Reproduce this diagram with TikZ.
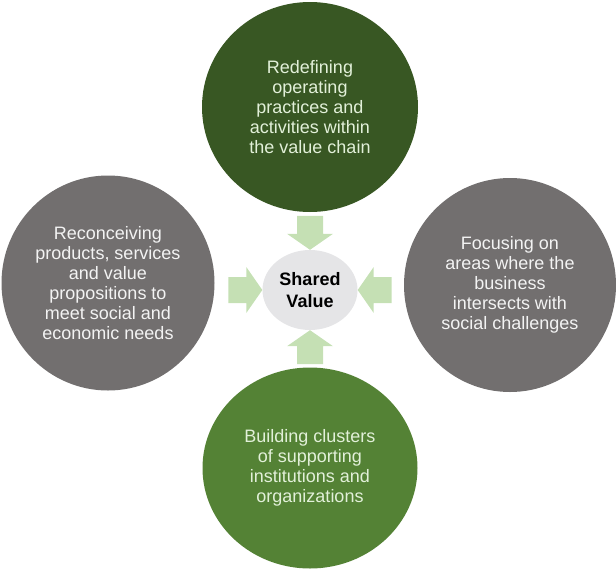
\documentclass[tikz,border=0pt]{standalone}
\usepackage{fontspec}
\setmainfont{Liberation Sans}
\usetikzlibrary{shapes.geometric}
\definecolor{dgreen}{RGB}{56,87,35}
\definecolor{mgreen}{RGB}{84,130,53}
\definecolor{cgray}{RGB}{114,111,111}
\definecolor{lgray}{RGB}{229,229,231}
\definecolor{agreen}{RGB}{197,224,180}
\definecolor{gtext}{RGB}{226,240,217}
\definecolor{wtext}{RGB}{243,243,243}
\tikzset{
  bubble/.style={ellipse, inner sep=0pt, align=center,
    font=\fontsize{18}{20}\selectfont},
  hub/.style={ellipse, fill=lgray, minimum width=95pt, minimum height=80pt,
    inner sep=0pt, align=center, font=\bfseries\fontsize{18}{22}\selectfont},
  blockarrow/.style={fill=agreen}
}
\newcommand{\myblockarrow}[2]{%
  \begin{scope}[shift={#1}, rotate=#2]
    \fill[blockarrow] (0,0) -- (-16,-23) -- (-16,-13) -- (-34,-13)
      -- (-34,13) -- (-16,13) -- (-16,23) -- cycle;
  \end{scope}}
\begin{document}
\begin{tikzpicture}[x=1pt,y=-1pt]
\useasboundingbox (0,0) rectangle (616,571);
\node[bubble, fill=dgreen, text=gtext, minimum width=216pt, minimum height=210pt]
  (top) at (310,107) {Redefining\\operating\\practices and\\activities within\\the value chain};
\node[bubble, fill=cgray, text=wtext, minimum width=213pt, minimum height=215pt]
  (left) at (108,283) {Reconceiving\\products, services\\and value\\propositions to\\meet social and\\economic needs};
\node[bubble, fill=cgray, text=wtext, minimum width=212pt, minimum height=214pt]
  (right) at (510,285) {Focusing on\\areas where the\\business\\intersects with\\social challenges};
\node[bubble, fill=mgreen, text=gtext, minimum width=215pt, minimum height=201pt]
  (bottom) at (310,468) {Building clusters\\of supporting\\institutions and\\organizations};
\node[hub] (sv) at (310,290) {Shared\\Value};
\myblockarrow{(sv.west)}{0}
\myblockarrow{(sv.east)}{180}
\myblockarrow{(sv.north)}{-90}
\myblockarrow{(sv.south)}{90}
\end{tikzpicture}
\end{document}
